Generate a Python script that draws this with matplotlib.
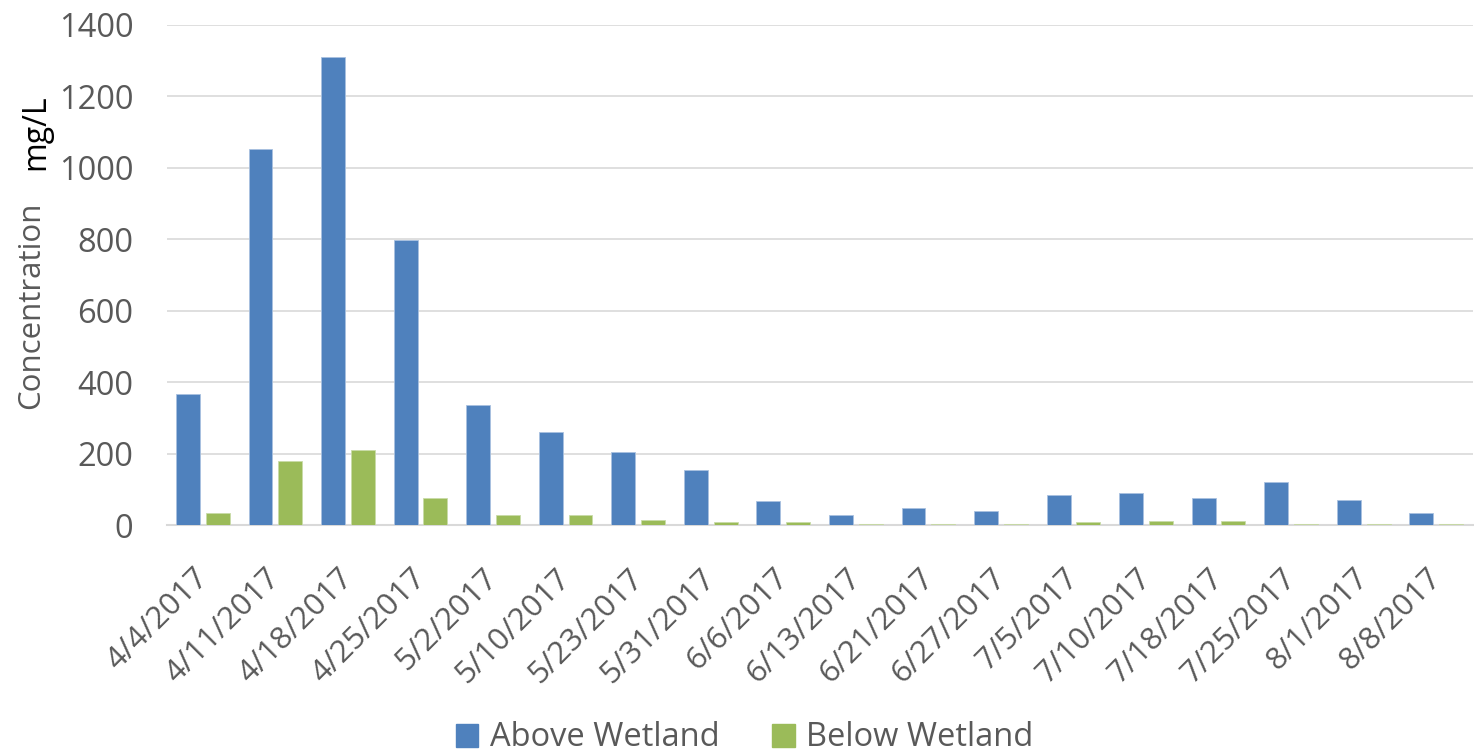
import numpy as np
import matplotlib
matplotlib.use("Agg")
import matplotlib.pyplot as plt
from matplotlib.patches import Patch
from matplotlib.transforms import ScaledTranslation

plt.rcParams["font.family"] = ["Open Sans", "DejaVu Sans"]

dates = [
    "4/4/2017", "4/11/2017", "4/18/2017", "4/25/2017", "5/2/2017", "5/10/2017",
    "5/23/2017", "5/31/2017", "6/6/2017", "6/13/2017", "6/21/2017", "6/27/2017",
    "7/5/2017", "7/10/2017", "7/18/2017", "7/25/2017", "8/1/2017", "8/8/2017",
]
above_wetland = [368, 1052, 1310, 798, 337, 260, 204, 154, 68, 28, 49, 39,
                 84, 91, 75, 121, 71, 35]
below_wetland = [34, 178, 210, 76, 27, 27, 13, 9, 8, 4, 4, 4,
                 8, 11, 11, 4, 4, 4]
y_ticks = [0, 200, 400, 600, 800, 1000, 1200, 1400]

blue = "#4F81BD"
green = "#9BBB59"
text_gray = "#595959"

fig = plt.figure(figsize=(14.74, 7.55), dpi=100)
ax = fig.add_axes([0.113, 0.3046, 0.886, 0.6624])

x = np.arange(len(dates))
width = 0.33
ax.bar(x - 0.205, above_wetland, width, color=blue, edgecolor="#A9C1E0", linewidth=0.6, zorder=3)
ax.bar(x + 0.205, below_wetland, width, color=green, edgecolor="#C9DBA8", linewidth=0.6, zorder=3)

ax.set_xlim(-0.5, len(dates) - 0.5)
ax.set_ylim(0, 1400)
ax.set_yticks(y_ticks)
ax.set_yticklabels([str(t) for t in y_ticks], fontsize=23.5, color=text_gray)
ax.set_xticks(x)
ax.set_xticklabels(dates, rotation=45, ha="right", rotation_mode="anchor",
                   fontsize=22.5, color=text_gray)
ax.tick_params(axis="both", length=0)
ax.tick_params(axis="y", pad=24)
ax.tick_params(axis="x", pad=27)

# nudge date labels a little to the left
shift = ScaledTranslation(-10 / 100, 0, fig.dpi_scale_trans)
for lbl in ax.get_xticklabels():
    lbl.set_transform(lbl.get_transform() + shift)

ax.grid(axis="y", color="#D9D9D9", linewidth=1.2, zorder=0)
for side in ["top", "right", "left"]:
    ax.spines[side].set_visible(False)
ax.spines["bottom"].set_color("#D9D9D9")
ax.spines["bottom"].set_linewidth(1.5)

# y label in two parts, as in the original
fig.text(0.021, 1 - 305 / 755, "Concentration", rotation=90, ha="center", va="center",
         fontsize=22.5, color=text_gray)
fig.text(0.024, 1 - 132 / 755, "mg/L", rotation=90, ha="center", va="center",
         fontsize=23, color="black")

handles = [Patch(facecolor=blue, edgecolor=blue), Patch(facecolor=green, edgecolor=green)]
fig.legend(handles, ["Above Wetland", "Below Wetland"], loc="center",
           bbox_to_anchor=(0.505, 1 - 738 / 755), ncol=2, frameon=False,
           fontsize=23.5, labelcolor=text_gray, handlelength=0.7, handleheight=0.7,
           handletextpad=0.35, columnspacing=1.6)

fig.savefig("out.png", dpi=100, facecolor="white")
